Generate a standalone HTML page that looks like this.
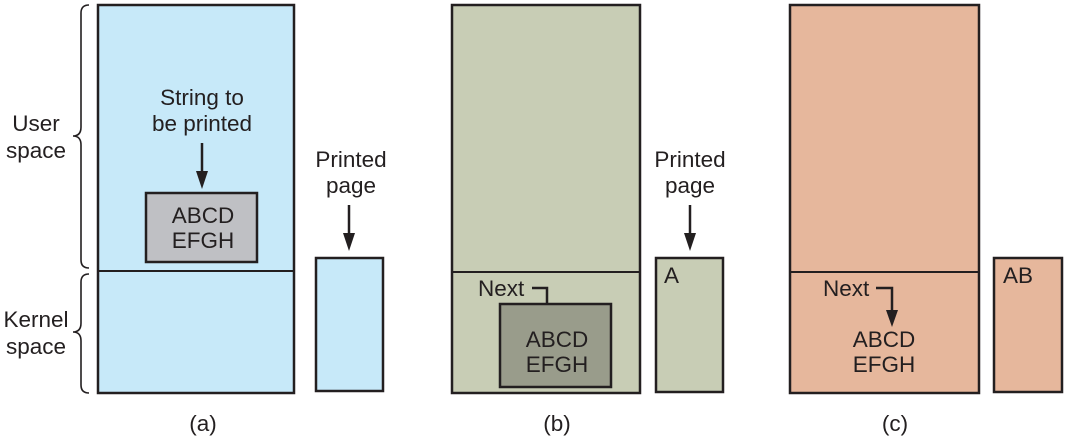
<!DOCTYPE html>
<html><head><meta charset="utf-8"><style>
html,body{margin:0;padding:0;background:#fff;}
svg{display:block;}
text{font-family:"Liberation Sans",Arial,sans-serif;font-size:22.5px;fill:#231f20;}
</style></head><body>
<svg width="1066" height="441" viewBox="0 0 1066 441" xmlns="http://www.w3.org/2000/svg">
<defs>
<marker id="ah" markerWidth="12" markerHeight="18" refX="6" refY="17" orient="auto" markerUnits="userSpaceOnUse">
<path d="M0,0 L12,0 L6,18 Z" fill="#231f20"/>
</marker>
</defs>
<!-- braces -->
<g fill="none" stroke="#231f20" stroke-width="1.6">
<path d="M89,5 Q81,5 81,13 L81,127 Q81,136 73,136 Q81,136 81,145 L81,260 Q81,268 89,268"/>
<path d="M89,274 Q81,274 81,282 L81,323 Q81,332 73,332 Q81,332 81,341 L81,385 Q81,393 89,393"/>
</g>
<text x="36" y="131" text-anchor="middle">User</text>
<text x="36" y="158" text-anchor="middle">space</text>
<text x="36" y="327" text-anchor="middle">Kernel</text>
<text x="36" y="354" text-anchor="middle">space</text>

<!-- panel a -->
<rect x="98" y="5" width="196" height="388" fill="#c7e9f9" stroke="#231f20" stroke-width="2.5"/>
<line x1="98" y1="271" x2="294" y2="271" stroke="#231f20" stroke-width="2"/>
<text x="202" y="105" text-anchor="middle">String to</text>
<text x="202" y="131" text-anchor="middle">be printed</text>
<line x1="202" y1="143" x2="202" y2="172" stroke="#231f20" stroke-width="2.5"/>
<path d="M196,171 L208,171 L202,189 Z" fill="#231f20"/>
<rect x="146" y="193" width="111" height="69" fill="#bfc0c4" stroke="#231f20" stroke-width="2.5"/>
<text x="203" y="223" text-anchor="middle">ABCD</text>
<text x="203" y="248" text-anchor="middle">EFGH</text>
<text x="351" y="167" text-anchor="middle">Printed</text>
<text x="351" y="193" text-anchor="middle">page</text>
<line x1="349" y1="205" x2="349" y2="234" stroke="#231f20" stroke-width="2.5"/>
<path d="M343,233 L355,233 L349,251 Z" fill="#231f20"/>
<rect x="316" y="258" width="67" height="133" fill="#c7e9f9" stroke="#231f20" stroke-width="2.5"/>
<text x="203" y="431" text-anchor="middle">(a)</text>

<!-- panel b -->
<rect x="452" y="5" width="188" height="388" fill="#c8cdb5" stroke="#231f20" stroke-width="2.5"/>
<line x1="452" y1="272" x2="640" y2="272" stroke="#231f20" stroke-width="2"/>
<text x="478" y="296">Next</text>
<path d="M532,288 L547,288 L547,304" fill="none" stroke="#231f20" stroke-width="2.5"/>
<rect x="500" y="304" width="111" height="83" fill="#999c8b" stroke="#231f20" stroke-width="2.5"/>
<text x="557" y="347" text-anchor="middle">ABCD</text>
<text x="557" y="372" text-anchor="middle">EFGH</text>
<text x="690" y="167" text-anchor="middle">Printed</text>
<text x="690" y="193" text-anchor="middle">page</text>
<line x1="690" y1="205" x2="690" y2="234" stroke="#231f20" stroke-width="2.5"/>
<path d="M684,233 L696,233 L690,251 Z" fill="#231f20"/>
<rect x="656" y="258" width="67" height="134" fill="#c8cdb5" stroke="#231f20" stroke-width="2.5"/>
<text x="664" y="283">A</text>
<text x="557" y="431" text-anchor="middle">(b)</text>

<!-- panel c -->
<rect x="790" y="5" width="189" height="388" fill="#e6b79c" stroke="#231f20" stroke-width="2.5"/>
<line x1="790" y1="272" x2="979" y2="272" stroke="#231f20" stroke-width="2"/>
<text x="823" y="296">Next</text>
<path d="M876,288 L892,288 L892,312" fill="none" stroke="#231f20" stroke-width="2.5"/>
<path d="M886,310 L898,310 L892,327 Z" fill="#231f20"/>
<text x="884" y="347" text-anchor="middle">ABCD</text>
<text x="884" y="372" text-anchor="middle">EFGH</text>
<rect x="994" y="258" width="68" height="134" fill="#e6b79c" stroke="#231f20" stroke-width="2.5"/>
<text x="1003" y="283">AB</text>
<text x="895" y="431" text-anchor="middle">(c)</text>
</svg>
</body></html>
